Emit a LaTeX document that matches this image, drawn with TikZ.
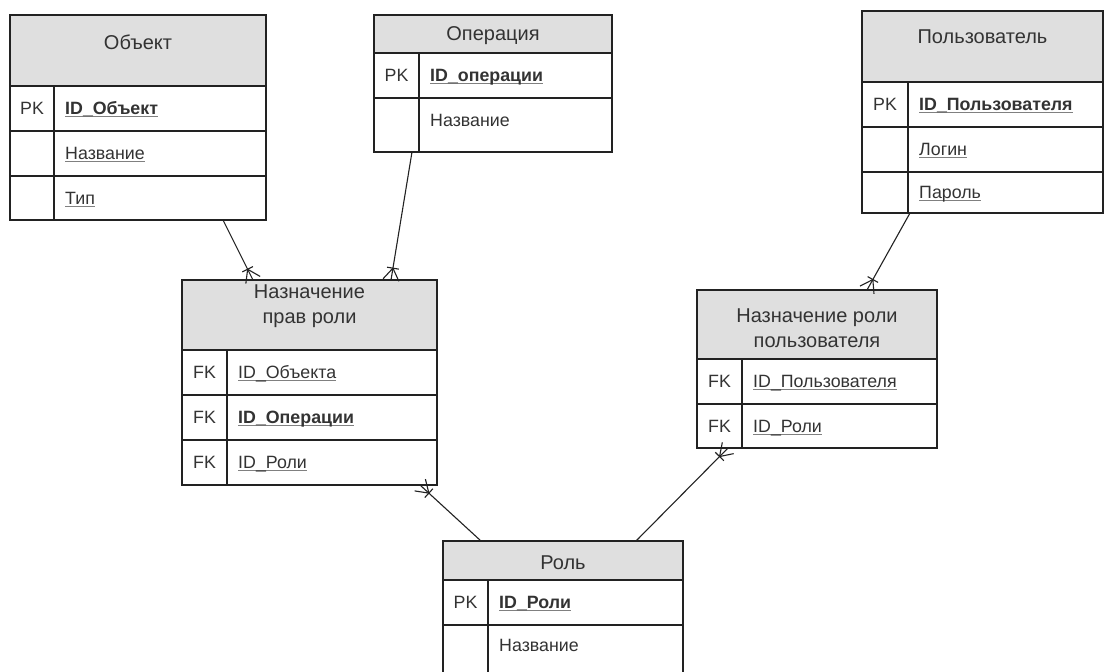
\documentclass[tikz,border=0pt]{standalone}
\usepackage{fontspec}
\setmainfont{Liberation Sans}
\usetikzlibrary{calc}

\definecolor{ink}{HTML}{222222}
\definecolor{txt}{HTML}{333333}
\definecolor{hdr}{HTML}{DFDFDF}
\definecolor{ulc}{HTML}{808080}

% underlined field name with a grey rule
\newcommand\ulg[1]{\leavevmode\setbox0\hbox{#1}\rlap{\textcolor{ulc}{\rule[-2.6pt]{\wd0}{1.1pt}}}\box0}
\newcommand\fieldfont{\fontsize{17.8}{21}\selectfont}
\newcommand\titlefont{\fontsize{20}{25}\selectfont}

\tikzset{
  x=1pt, y=-1pt,
  tbl/.style={draw=ink, line width=1.3pt, rectangle, anchor=north west,
              inner sep=0pt, outer sep=0pt, fill=white},
  hline/.style={draw=ink, line width=1.2pt},
  ttl/.style={font=\titlefont, text=txt, align=center, inner sep=0pt},
  keycol/.style={font=\fieldfont, text=txt, inner sep=0pt, text height=12.7pt, text depth=0pt},
  fld/.style={font=\fieldfont, text=txt, anchor=west, inner sep=0pt, text height=12.7pt, text depth=0pt},
  rel/.style={draw=ink, line width=1.1pt},
}

% entity table: name, x, y, width, height, header height, key column width, row lines
\newcommand\ertable[8]{%
  \node[tbl, minimum width=#4pt, minimum height=#5pt] (#1) at (#2,#3) {};
  \fill[hdr] ($(#1.north west)+(0.65,0.65)$) rectangle ($(#1.north east)+(-0.65,#6)$);
  \draw[hline] ($(#1.north west)+(0,#6)$) -- ($(#1.north east)+(0,#6)$);
  \draw[hline] ($(#1.north west)+(#7,#6)$) -- ($(#1.south west)+(#7,0)$);
  \foreach \r in {#8} \draw[hline] ($(#1.north west)+(0,\r)$) -- ($(#1.north east)+(0,\r)$);
}

% relationship line with a crow's foot at the child end: parent point, child point
\newcommand\crowfoot[2]{%
  \draw[rel] (#1) -- (#2);
  \coordinate (cfp) at ($(#2)!12pt!(#1)$);
  \draw[rel] (cfp) -- ($(#2)!8pt!90:(#1)$);
  \draw[rel] (cfp) -- ($(#2)!8pt!-90:(#1)$);
  \draw[rel] ($(cfp)!6pt!90:(#2)$) -- ($(cfp)!6pt!-90:(#2)$);
}

\begin{document}
\begin{tikzpicture}
\useasboundingbox (0,0) rectangle (1106,672);
\fill[white] (0,0) rectangle (1106,672);
\clip (0,0) rectangle (1106,672);

% ---- tables ----
\ertable{obj}{10}{15}{256}{205}{71}{44}{116,161}
\ertable{op}{374}{15}{238}{137}{38}{45}{83}
\ertable{usr}{862}{11}{241}{202}{71}{46}{116,161}
\ertable{perm}{182}{280}{255}{205}{70}{45}{115,160}
\ertable{ur}{697}{290}{240}{158}{69}{45}{114}
\ertable{role}{443}{541}{240}{170}{39}{45}{84}

% Объект
\node[ttl] (objT) at ($(obj.north)+(0,27)$) {Объект};
\node[keycol] (objK1) at ($(obj.north west)+(22,93.5)$) {PK};
\node[fld] (objF1) at ($(obj.north west)+(55,93.5)$) {\ulg{\bfseries ID\_Объект}};
\node[fld] (objF2) at ($(obj.north west)+(55,138.5)$) {\ulg{Название}};
\node[fld] (objF3) at ($(obj.north west)+(55,183)$) {\ulg{Тип}};

% Операция
\node[ttl] (opT) at ($(op.north)+(0,21)$) {Операция};
\node[keycol] (opK1) at ($(op.north west)+(22.5,60)$) {PK};
\node[fld] (opF1) at ($(op.north west)+(56,60)$) {\ulg{\bfseries ID\_операции}};
\node[fld] (opF2) at ($(op.north west)+(56,105)$) {Название};

% Пользователь
\node[ttl] (usrT) at ($(usr.north)+(0,26)$) {Пользователь};
\node[keycol] (usrK1) at ($(usr.north west)+(23,93.5)$) {PK};
\node[fld] (usrF1) at ($(usr.north west)+(57,93.5)$) {\ulg{\bfseries ID\_Пользователя}};
\node[fld] (usrF2) at ($(usr.north west)+(57,138.5)$) {\ulg{Логин}};
\node[fld] (usrF3) at ($(usr.north west)+(57,181.5)$) {\ulg{Пароль}};

% Назначение прав роли
\node[ttl] (permT) at ($(perm.north)+(0,26)$) {Назначение\\прав роли};
\node[keycol] (permK1) at ($(perm.north west)+(22.5,92.5)$) {FK};
\node[keycol] (permK2) at ($(perm.north west)+(22.5,137.5)$) {FK};
\node[keycol] (permK3) at ($(perm.north west)+(22.5,182.5)$) {FK};
\node[fld] (permF1) at ($(perm.north west)+(56,92.5)$) {\ulg{ID\_Объекта}};
\node[fld] (permF2) at ($(perm.north west)+(56,137.5)$) {\ulg{\bfseries ID\_Операции}};
\node[fld] (permF3) at ($(perm.north west)+(56,182.5)$) {\ulg{ID\_Роли}};

% Назначение роли пользователя
\node[ttl] (urT) at ($(ur.north)+(0,38)$) {Назначение роли\\пользователя};
\node[keycol] (urK1) at ($(ur.north west)+(22.5,91.5)$) {FK};
\node[keycol] (urK2) at ($(ur.north west)+(22.5,136)$) {FK};
\node[fld] (urF1) at ($(ur.north west)+(56,91.5)$) {\ulg{ID\_Пользователя}};
\node[fld] (urF2) at ($(ur.north west)+(56,136)$) {\ulg{ID\_Роли}};

% Роль
\node[ttl] (roleT) at ($(role.north)+(0,22)$) {Роль};
\node[keycol] (roleK1) at ($(role.north west)+(22.5,61.5)$) {PK};
\node[fld] (roleF1) at ($(role.north west)+(56,61.5)$) {\ulg{\bfseries ID\_Роли}};
\node[fld] (roleF2) at ($(role.north west)+(56,104)$) {Название};

% ---- relationships ----
\coordinate (r1a) at ($(obj.south west)+(213,0)$);
\coordinate (r1b) at ($(perm.north west)+(71,0)$);
\coordinate (r2a) at ($(op.south west)+(38,0)$);
\coordinate (r2b) at ($(perm.north west)+(209,0)$);
\coordinate (r3a) at ($(usr.south west)+(48,0)$);
\coordinate (r3b) at ($(ur.north west)+(170,0)$);
\coordinate (r4a) at ($(role.north west)+(38,0)$);
\coordinate (r4b) at ($(perm.south west)+(238,0)$);
\coordinate (r5a) at ($(role.north west)+(193,0)$);
\coordinate (r5b) at ($(ur.south west)+(31,0)$);

\crowfoot{r1a}{r1b}
\crowfoot{r2a}{r2b}
\crowfoot{r3a}{r3b}
\crowfoot{r4a}{r4b}
\crowfoot{r5a}{r5b}
\end{tikzpicture}
\end{document}
